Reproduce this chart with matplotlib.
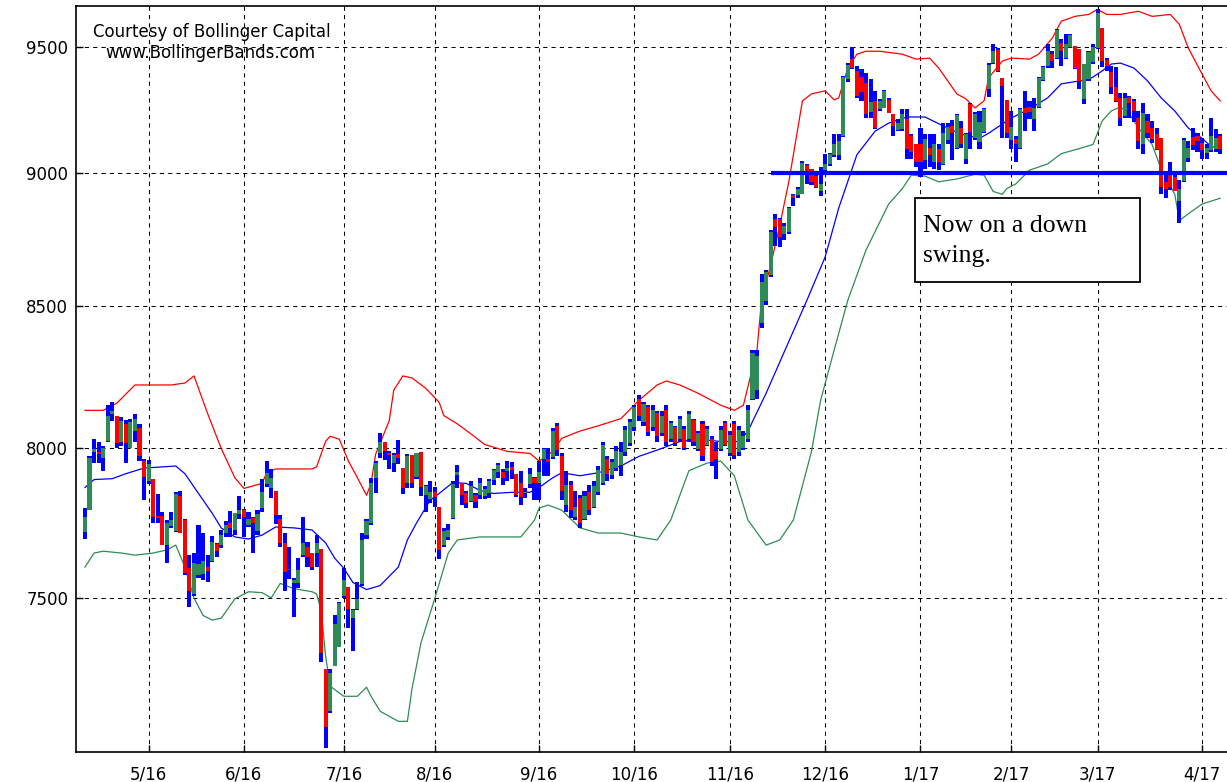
import numpy as np
import pandas as pd
import matplotlib
matplotlib.use("Agg")
import matplotlib.pyplot as plt
from matplotlib.ticker import NullLocator, FixedLocator
from matplotlib.patches import Rectangle

# ---------------- data ----------------
start_date = "2016-04-12"
end_date = "2017-04-07"
holidays = ["2016-05-30", "2016-07-04", "2016-09-05", "2016-11-24",
            "2016-12-26", "2017-01-02", "2017-01-16", "2017-02-20"]

opens = [7716, 7790, 7985, 7985, 7963, 8024, 8115, 8111, 8021, 8082,
         7998, 8057, 8069, 7955, 7887, 7893, 7768, 7768, 7672, 7735,
         7719, 7835, 7755, 7597, 7513, 7575, 7577, 7600, 7620, 7676,
         7671, 7712, 7745, 7721, 7775, 7788, 7740, 7762, 7720, 7795,
         7877, 7861, 7852, 7758, 7679, 7594, 7548, 7547, 7640, 7667,
         7646, 7646, 7659, 7274, 7144, 7285, 7345, 7506, 7536, 7435,
         7466, 7546, 7705, 7745, 7897, 7980, 8019, 7983, 7947, 7977,
         7931, 7881, 7974, 7898, 7984, 7838, 7825, 7849, 7798, 7672,
         7700, 7762, 7905, 7881, 7844, 7818, 7838, 7838, 7835, 7845,
         7890, 7915, 7917, 7920, 7935, 7911, 7881, 7845, 7875, 7897,
         7880, 7960, 7960, 7967, 8075, 7970, 7805, 7871, 7765, 7830,
         7760, 7850, 7800, 7850, 7880, 7960, 7905, 7930, 7940, 7985,
         8015, 8070, 8170, 8090, 8140, 8070, 8120, 8050, 8130, 8030,
         8070, 8030, 8065, 8030, 8095, 7995, 8080, 8010, 8030, 7990,
         7995, 8085, 7980, 8080, 7985, 8000, 8030, 8170, 8200, 8440,
         8520, 8615, 8826, 8826, 8770, 8775, 8915, 8915, 8922, 9032,
         9016, 8990, 8930, 9012, 9036, 9072, 9072, 9144, 9370, 9452,
         9404, 9380, 9356, 9240, 9284, 9252, 9256, 9288, 9232, 9170,
         9172, 9212, 9144, 9112, 9112, 9052, 9100, 9044, 9096, 9036,
         9130, 9184, 9100, 9176, 9056, 9272, 9136, 9120, 9160, 9330,
         9436, 9488, 9376, 9288, 9130, 9132, 9100, 9256, 9260, 9212,
         9260, 9368, 9424, 9472, 9456, 9516, 9456, 9500, 9504, 9492,
         9290, 9370, 9440, 9496, 9578, 9450, 9400, 9340, 9296, 9224,
         9300, 9284, 9216, 9112, 9204, 9176, 9152, 9136, 8967, 8993,
         8985, 8893, 8970, 9060, 9140, 9144, 9116, 9080, 9092, 9096,
         9144]
highs = [7796, 7970, 8030, 8021, 8004, 8146, 8157, 8111, 8105, 8096,
         8099, 8117, 8081, 7960, 7956, 7893, 7841, 7783, 7755, 7783,
         7849, 7852, 7758, 7640, 7646, 7738, 7712, 7640, 7702, 7679,
         7722, 7752, 7786, 7779, 7834, 7791, 7783, 7766, 7788, 7893,
         7954, 7927, 7852, 7772, 7712, 7667, 7563, 7630, 7765, 7683,
         7646, 7705, 7659, 7274, 7274, 7444, 7488, 7596, 7536, 7466,
         7550, 7712, 7758, 7897, 7954, 8051, 8019, 7987, 7981, 8025,
         7931, 7977, 7974, 7981, 7984, 7871, 7885, 7865, 7798, 7729,
         7742, 7887, 7940, 7881, 7854, 7887, 7844, 7897, 7868, 7894,
         7927, 7947, 7927, 7954, 7950, 7911, 7921, 7864, 7930, 7901,
         7954, 7997, 7997, 8068, 8086, 7980, 7921, 7887, 7854, 7838,
         7854, 7871, 7887, 7937, 8021, 7970, 7960, 8004, 8021, 8075,
         8100, 8146, 8182, 8157, 8146, 8146, 8128, 8128, 8146, 8093,
         8075, 8111, 8075, 8128, 8100, 8057, 8093, 8075, 8039, 8021,
         8075, 8093, 8057, 8093, 8075, 8057, 8146, 8343, 8343, 8619,
         8634, 8782, 8844, 8830, 8808, 8870, 8922, 8948, 9048, 9036,
         9016, 9004, 9024, 9076, 9080, 9152, 9152, 9384, 9436, 9500,
         9424, 9412, 9396, 9372, 9324, 9292, 9328, 9296, 9232, 9212,
         9252, 9252, 9152, 9112, 9176, 9152, 9152, 9152, 9112, 9196,
         9196, 9208, 9232, 9204, 9156, 9276, 9240, 9244, 9256, 9436,
         9512, 9496, 9376, 9288, 9244, 9144, 9256, 9324, 9284, 9296,
         9380, 9424, 9512, 9484, 9574, 9533, 9553, 9553, 9504, 9492,
         9432, 9484, 9512, 9656, 9578, 9456, 9424, 9420, 9316, 9316,
         9304, 9290, 9244, 9276, 9232, 9204, 9176, 9136, 8993, 9044,
         9004, 8974, 9136, 9124, 9176, 9156, 9136, 9112, 9216, 9172,
         9152]
lows = [7691, 7788, 7948, 7948, 7921, 8021, 8093, 7998, 8004, 7948,
        7998, 8021, 7954, 7821, 7877, 7744, 7744, 7672, 7614, 7728,
        7716, 7713, 7575, 7470, 7507, 7565, 7557, 7552, 7617, 7634,
        7661, 7699, 7700, 7705, 7760, 7700, 7733, 7645, 7705, 7783,
        7865, 7828, 7742, 7666, 7523, 7562, 7438, 7533, 7633, 7600,
        7590, 7600, 7295, 7032, 7140, 7285, 7345, 7500, 7404, 7330,
        7460, 7540, 7692, 7739, 7845, 7965, 7959, 7927, 7915, 7945,
        7843, 7864, 7864, 7894, 7835, 7783, 7811, 7797, 7626, 7666,
        7689, 7758, 7864, 7805, 7795, 7815, 7795, 7825, 7825, 7828,
        7871, 7897, 7871, 7887, 7894, 7831, 7805, 7828, 7861, 7821,
        7821, 7904, 7904, 7960, 7970, 7821, 7782, 7762, 7755, 7729,
        7755, 7772, 7795, 7838, 7871, 7887, 7894, 7921, 7904, 7970,
        8004, 8057, 8093, 8075, 8039, 8057, 8021, 8039, 8004, 8021,
        8004, 8021, 7993, 8021, 8004, 7987, 7954, 8004, 7937, 7894,
        7987, 8004, 7970, 7960, 7970, 7993, 8021, 8164, 8170, 8420,
        8504, 8608, 8722, 8719, 8745, 8770, 8874, 8904, 8919, 8960,
        8956, 8944, 8911, 8996, 9030, 9064, 9052, 9140, 9360, 9410,
        9296, 9284, 9216, 9216, 9172, 9244, 9256, 9236, 9144, 9164,
        9164, 9056, 9056, 9024, 8985, 9016, 9024, 9016, 9012, 9032,
        9112, 9052, 9096, 9100, 9036, 9096, 9130, 9096, 9156, 9300,
        9432, 9400, 9136, 9136, 9096, 9044, 9096, 9164, 9212, 9164,
        9256, 9364, 9416, 9416, 9452, 9424, 9452, 9496, 9410, 9332,
        9272, 9364, 9432, 9492, 9420, 9404, 9312, 9280, 9184, 9216,
        9216, 9200, 9096, 9076, 9136, 9116, 9092, 8919, 8904, 8937,
        8930, 8808, 8967, 9044, 9092, 9084, 9056, 9056, 9084, 9084,
        9076]
closes = [7766, 7963, 7995, 7978, 8000, 8111, 8125, 8015, 8093, 8015,
          8090, 8099, 7970, 7900, 7943, 7766, 7762, 7672, 7744, 7755,
          7841, 7713, 7580, 7523, 7613, 7610, 7620, 7587, 7682, 7653,
          7706, 7738, 7727, 7779, 7790, 7765, 7760, 7745, 7775, 7850,
          7914, 7897, 7772, 7679, 7583, 7590, 7558, 7590, 7680, 7633,
          7600, 7679, 7326, 7097, 7262, 7416, 7485, 7559, 7466, 7460,
          7497, 7690, 7752, 7881, 7947, 8021, 7987, 7974, 7974, 7964,
          7861, 7970, 7881, 7980, 7865, 7868, 7850, 7832, 7656, 7719,
          7722, 7877, 7915, 7838, 7811, 7868, 7815, 7881, 7860, 7885,
          7925, 7940, 7897, 7930, 7925, 7838, 7831, 7850, 7910, 7881,
          7915, 7995, 7950, 8057, 7993, 7854, 7871, 7788, 7800, 7745,
          7835, 7790, 7870, 7925, 8010, 7910, 7950, 7990, 7985, 8060,
          8090, 8140, 8110, 8150, 8055, 8130, 8040, 8110, 8020, 8085,
          8015, 8100, 8000, 8115, 8020, 8050, 7970, 8065, 7950, 7960,
          8060, 8010, 8045, 7975, 8060, 8040, 8130, 8330, 8320, 8590,
          8625, 8775, 8793, 8756, 8800, 8866, 8905, 8940, 9040, 8996,
          8967, 8948, 8960, 9036, 9076, 9112, 9124, 9380, 9430, 9416,
          9304, 9320, 9232, 9280, 9176, 9284, 9324, 9236, 9184, 9196,
          9232, 9096, 9084, 9044, 9044, 9132, 9070, 9112, 9044, 9156,
          9180, 9156, 9228, 9112, 9152, 9160, 9232, 9200, 9250, 9430,
          9484, 9404, 9344, 9156, 9180, 9112, 9250, 9236, 9240, 9256,
          9376, 9420, 9484, 9444, 9570, 9484, 9512, 9550, 9416, 9364,
          9432, 9480, 9500, 9640, 9444, 9424, 9340, 9284, 9216, 9296,
          9276, 9244, 9124, 9236, 9156, 9132, 9096, 8948, 8941, 8948,
          8930, 8941, 9130, 9100, 9110, 9124, 9092, 9100, 9144, 9136,
          9096]

# Bollinger bands: session index of each reading and the value read there
upper_idx = [0, 4, 7, 11, 19, 22, 24, 27, 30, 33, 35, 39, 40, 42, 50, 51, 53,
             54, 56, 58, 60, 62, 63, 64, 67, 68, 70, 72, 75, 78, 79, 82, 85,
             88, 93, 98, 100, 101, 103, 105, 109, 113, 118, 122, 126, 128, 131,
             135, 140, 143, 145, 148, 149, 151, 153, 155, 158, 160, 163, 165,
             166, 168, 170, 172, 175, 180, 183, 186, 188, 190, 192, 194, 196,
             198, 199, 202, 204, 208, 210, 213, 215, 218, 221, 223, 225, 228,
             232, 235, 239, 241, 243, 246, 248, 250]
upper_val = [8129, 8129, 8154, 8218, 8218, 8225, 8250, 8118, 7997, 7897, 7861,
             7878, 7914, 7927, 7927, 7934, 8022, 8039, 8029, 7954, 7897, 7838,
             7878, 7977, 8093, 8200, 8250, 8243, 8207, 8157, 8111, 8082, 8047,
             8011, 7987, 7980, 7954, 7964, 7987, 8032, 8057, 8075, 8100, 8164,
             8218, 8232, 8218, 8189, 8147, 8129, 8147, 8343, 8523, 8652, 8800,
             8967, 9284, 9312, 9324, 9288, 9296, 9416, 9472, 9484, 9484, 9472,
             9452, 9456, 9416, 9364, 9312, 9292, 9256, 9284, 9376, 9444, 9456,
             9452, 9472, 9537, 9607, 9627, 9635, 9656, 9635, 9635, 9648, 9627,
             9635, 9594, 9496, 9392, 9324, 9284]
middle_idx = [0, 2, 6, 9, 13, 17, 20, 22, 25, 28, 30, 33, 36, 39, 42, 46, 50,
              53, 55, 57, 59, 62, 65, 69, 71, 73, 76, 78, 81, 84, 87, 90, 94,
              98, 100, 103, 105, 109, 113, 118, 122, 127, 131, 135, 140, 144,
              146, 150, 159, 163, 166, 170, 174, 177, 181, 185, 190, 193, 197,
              199, 202, 204, 208, 212, 215, 219, 221, 224, 226, 228, 231, 234,
              237, 240, 243, 246, 248, 250]
middle_val = [7864, 7891, 7894, 7911, 7930, 7934, 7937, 7911, 7844, 7778, 7729,
              7699, 7692, 7705, 7732, 7729, 7722, 7679, 7629, 7596, 7550, 7527,
              7540, 7600, 7689, 7745, 7821, 7844, 7881, 7878, 7854, 7844, 7848,
              7848, 7864, 7897, 7914, 7904, 7914, 7937, 7970, 7997, 8021, 8029,
              8021, 8021, 8057, 8189, 8523, 8682, 8867, 9072, 9164, 9196, 9220,
              9220, 9176, 9152, 9136, 9156, 9192, 9216, 9252, 9296, 9352, 9364,
              9368, 9404, 9432, 9436, 9416, 9364, 9296, 9244, 9176, 9136, 9104,
              9096]
lower_idx = [0, 2, 4, 8, 11, 15, 18, 20, 22, 24, 26, 28, 30, 33, 36, 39, 41,
             43, 46, 50, 51, 52, 53, 54, 57, 60, 62, 63, 65, 69, 71, 72, 74, 77,
             80, 82, 87, 91, 96, 99, 100, 102, 105, 109, 113, 118, 122, 126,
             129, 133, 137, 140, 143, 146, 150, 153, 156, 160, 162, 165, 168,
             172, 177, 180, 182, 185, 188, 192, 196, 198, 200, 202, 203, 205,
             208, 212, 215, 219, 222, 224, 226, 228, 230, 232, 235, 237, 240,
             241, 243, 246, 248, 250]
lower_val = [7600, 7646, 7652, 7646, 7639, 7646, 7656, 7672, 7600, 7500, 7444,
             7429, 7435, 7497, 7520, 7517, 7500, 7547, 7530, 7520, 7513, 7460,
             7314, 7221, 7190, 7190, 7218, 7190, 7144, 7113, 7113, 7212, 7357,
             7497, 7646, 7689, 7699, 7699, 7699, 7755, 7795, 7805, 7788, 7729,
             7712, 7712, 7699, 7689, 7755, 7921, 7947, 7954, 7904, 7755, 7672,
             7689, 7755, 7987, 8164, 8343, 8523, 8708, 8882, 8941, 8993, 8989,
             8967, 8978, 8996, 8993, 8930, 8919, 8941, 8959, 9012, 9036, 9076,
             9096, 9112, 9204, 9244, 9260, 9232, 9176, 9112, 9016, 8919, 8819,
             8845, 8882, 8893, 8904]

support_level = 9000
support_start = "2016-11-14"
y_ticks = [7500, 8000, 8500, 9000, 9500]
credit_lines = ["Courtesy of Bollinger Capital", "www.BollingerBands.com"]
note_lines = ["Now on a down", "swing."]

# ---------------- calendar ----------------
dates = pd.bdate_range(start_date, end_date)
dates = dates[~dates.isin(pd.to_datetime(holidays))]
n = min(len(dates), len(opens))
dates = dates[:n]
xi = np.arange(n)

o = np.array(opens[:n], float)
h = np.array(highs[:n], float)
l = np.array(lows[:n], float)
c = np.array(closes[:n], float)

month_first = [i for i in range(n) if i > 0 and dates[i].month != dates[i - 1].month]
month_labels = [f"{dates[i].month}/{dates[i].strftime('%y')}" for i in month_first]
support_x = int(np.searchsorted(dates, pd.Timestamp(support_start)))

# ---------------- figure ----------------
W, H = 1227, 782
fig = plt.figure(figsize=(W / 100, H / 100), dpi=100)
ax = fig.add_axes([76 / W, 1 - 752 / H, 1 - 76 / W, (752 - 6) / H])

ax.set_yscale("log")
ax.set_ylim(7020, 9670)
ax.set_xlim(-1.98, 251.5)

blue = "#0000ff"
red = "#ff0000"
green = "#2e8b57"

# bands
ax.plot(upper_idx, upper_val, color=red, lw=0.9, zorder=2)
ax.plot(middle_idx, middle_val, color=blue, lw=0.9, zorder=2)
ax.plot(lower_idx, lower_val, color=green, lw=0.9, zorder=2)

# range bars
ax.bar(xi, h - l, bottom=l, width=0.9, color=blue, linewidth=0, zorder=3)
# bodies
body_lo = np.minimum(o, c)
body_hi = np.maximum(o, c)
body_col = [green if cc >= oo else red for oo, cc in zip(o, c)]
ax.bar(xi, np.maximum(body_hi - body_lo, 2), bottom=body_lo, width=0.9,
       color=body_col, linewidth=0, zorder=4)

# support line
ax.hlines(support_level, support_x, n + 5, colors=blue, lw=3.0, zorder=5)

# axes styling
ax.yaxis.set_major_locator(FixedLocator(y_ticks))
ax.yaxis.set_minor_locator(NullLocator())
ax.set_yticklabels([str(v) for v in y_ticks])
ax.set_xticks(month_first)
ax.set_xticklabels(month_labels)
ax.xaxis.set_minor_locator(NullLocator())

for lab in ax.get_xticklabels() + ax.get_yticklabels():
    lab.set_fontfamily("DejaVu Sans")
    lab.set_fontsize(12)
ax.tick_params(axis="both", direction="in", length=5, width=1, color="black")
ax.tick_params(axis="y", pad=5.5)
ax.tick_params(axis="x", pad=10)

ax.grid(True, color="black", linestyle=(0, (4, 4)), lw=0.75)
ax.set_axisbelow(True)
for s in ["left", "bottom", "top"]:
    ax.spines[s].set_linewidth(1.2)
    ax.spines[s].set_color("black")
ax.spines["right"].set_visible(False)

# credit text
fig.text(212 / W, 1 - 32 / H, credit_lines[0], ha="center", va="center",
         family="DejaVu Sans", fontsize=12)
fig.text(210 / W, 1 - 53 / H, credit_lines[1], ha="center", va="center",
         family="DejaVu Sans", fontsize=12)

# annotation box
box = Rectangle((915 / W, 1 - 282 / H), 225 / W, 84 / H, transform=fig.transFigure,
                facecolor="white", edgecolor="black", lw=1.3, zorder=10)
fig.patches.append(box)
fig.text(923 / W, 1 - 232 / H, note_lines[0], ha="left", va="baseline",
         family="Liberation Serif", fontsize=18.5, zorder=11)
fig.text(923 / W, 1 - 262 / H, note_lines[1], ha="left", va="baseline",
         family="Liberation Serif", fontsize=18.5, zorder=11)

fig.savefig("out.png", dpi=100)
